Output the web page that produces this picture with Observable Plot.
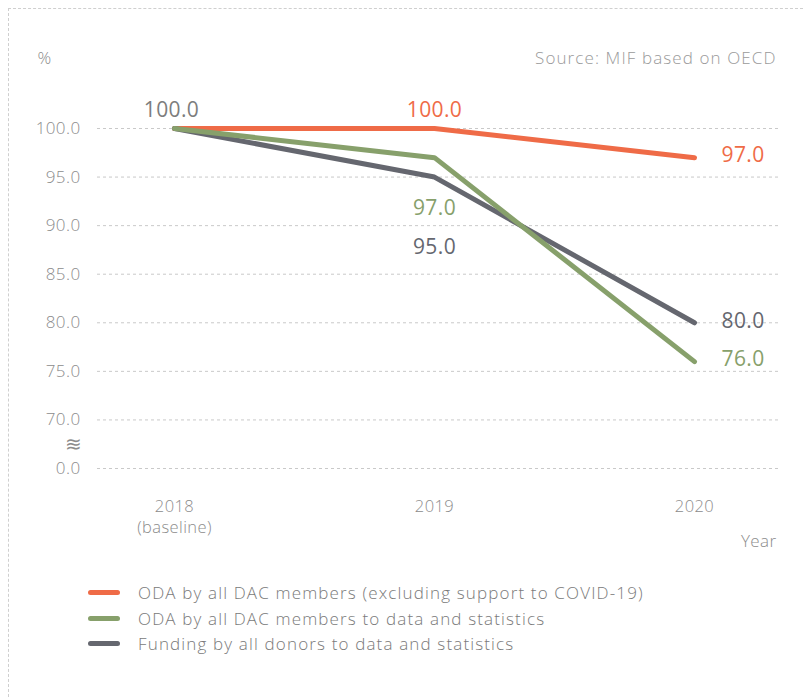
<!DOCTYPE html>
<html>
<head>
<meta charset="utf-8">
<script src="https://cdn.jsdelivr.net/npm/d3@7"></script>
<script src="https://cdn.jsdelivr.net/npm/@observablehq/plot@0.6"></script>
<style>
  body { margin: 0; width: 803px; height: 697px; position: relative; background: #fff; font-family: "Open Sans", sans-serif; overflow: hidden; }
  #frame { position: absolute; left: 8px; top: 8px; right: 0; bottom: 0; border-top: 1px dashed #cfcfcf; border-left: 1px dashed #cfcfcf; }
  #chart { position: absolute; left: 0; top: 0; }
  #legend { position: absolute; left: 88px; top: 580px; font-size: 17px; color: #7a7a7a; font-weight: 300; letter-spacing: 1.15px; }
  .row { display: flex; align-items: center; height: 25.5px; }
  .sw { width: 32px; height: 5px; border-radius: 3px; margin-right: 18px; }
  .src { letter-spacing: 1.1px; }
  .lbl { font-weight: 400; }
</style>
</head>
<body>
<div id="frame"></div>
<div id="chart"></div>
<div id="legend"></div>
<script>
const years = [2018, 2019, 2020];
const seriesNames = [
  "ODA by all DAC members (excluding support to COVID-19)",
  "ODA by all DAC members to data and statistics",
  "Funding by all donors to data and statistics"
];
const odaTotal = [100.0, 100.0, 97.0];
const odaData = [100.0, 97.0, 76.0];
const fundingData = [100.0, 95.0, 80.0];
const colors = ["#EF6B47", "#87A06B", "#65676F"];
const yTicks = [65, 70, 75, 80, 85, 90, 95, 100];
const yTickLabels = ["0.0", "70.0", "75.0", "80.0", "85.0", "90.0", "95.0", "100.0"];
const xTickLabels = ["2018\n(baseline)", "2019", "2020"];

const allValues = [odaTotal, odaData, fundingData];
const rows = [];
allValues.forEach((vals, s) => vals.forEach((v, i) => rows.push({series: seriesNames[s], idx: s, year: years[i], value: v})));

const drawOrder = [0, 2, 1];
const lineMarks = drawOrder.map(s => Plot.line(rows.filter(d => d.idx === s), {
  x: "year", y: "value", stroke: colors[s], strokeWidth: 5, strokeLinecap: "round", strokeLinejoin: "round"
}));

const fmt = v => v.toFixed(1);
const first = rows.filter(d => d.year === 2018 && d.idx === 2);
const mid = rows.filter(d => d.year === 2019);
const last = rows.filter(d => d.year === 2020);
const midDy = [-18, 51, 70];

const plot = Plot.plot({
  width: 803,
  height: 560,
  marginLeft: 97,
  marginRight: 25,
  marginTop: 0,
  marginBottom: 92,
  style: {fontFamily: "'Open Sans', sans-serif", fontWeight: 300, background: "transparent", letterSpacing: "0.4px"},
  x: {type: "linear", domain: [2018, 2020], range: [174, 694]},
  y: {domain: [65, 100], range: [468, 128]},
  marks: [
    Plot.ruleY(yTicks, {stroke: "#c9c9c9", strokeDasharray: "3,3", strokeWidth: 1}),
    Plot.axisY({ticks: yTicks, tickSize: 0, tickPadding: 17, tickFormat: d => yTickLabels[yTicks.indexOf(d)], fontSize: 17, color: "#8c8c8c", label: null}),
    Plot.axisX({ticks: years, tickSize: 0, tickPadding: 28, tickFormat: d => xTickLabels[years.indexOf(d)], fontSize: 16.5, color: "#8c8c8c", label: null, lineHeight: 1.28}),
    Plot.text(["Year"], {frameAnchor: "bottom-right", dx: -2, dy: 73, lineAnchor: "middle", fontSize: 17, fill: "#8c8c8c"}),
    Plot.text(["%"], {frameAnchor: "top-left", dx: -60, dy: 58, lineAnchor: "middle", fontSize: 17, fill: "#8c8c8c", textAnchor: "start"}),
    Plot.text(["Source: MIF based on OECD"], {frameAnchor: "top-right", dx: -2, dy: 58, lineAnchor: "middle", fontSize: 17, fill: "#9a9a9a", textAnchor: "end", className: "src"}),
    Plot.text(["\u224B"], {y: () => 67.5, frameAnchor: "left", dx: -33, fontSize: 20, fill: "#8c8c8c", fontFamily: "DejaVu Sans"}),
    ...lineMarks,
    Plot.text(first, {x: "year", y: "value", text: d => fmt(d.value), dx: -3, dy: -18, fontSize: 21, fill: "#7d7d7d", className: "lbl"}),
    ...mid.map(d => Plot.text([d], {x: "year", y: "value", text: r => fmt(r.value), dy: midDy[d.idx], fontSize: 21, fill: colors[d.idx], className: "lbl"})),
    Plot.text(last, {x: "year", y: "value", text: d => fmt(d.value), dx: 27, dy: -2, textAnchor: "start", fontSize: 21, fill: d => colors[d.idx], className: "lbl"})
  ]
});
document.getElementById("chart").append(plot);

const legend = document.getElementById("legend");
seriesNames.forEach((name, i) => {
  const row = document.createElement("div");
  row.className = "row";
  const sw = document.createElement("div");
  sw.className = "sw";
  sw.style.background = colors[i];
  const t = document.createElement("span");
  t.textContent = name;
  row.append(sw, t);
  legend.append(row);
});
</script>
</body>
</html>
